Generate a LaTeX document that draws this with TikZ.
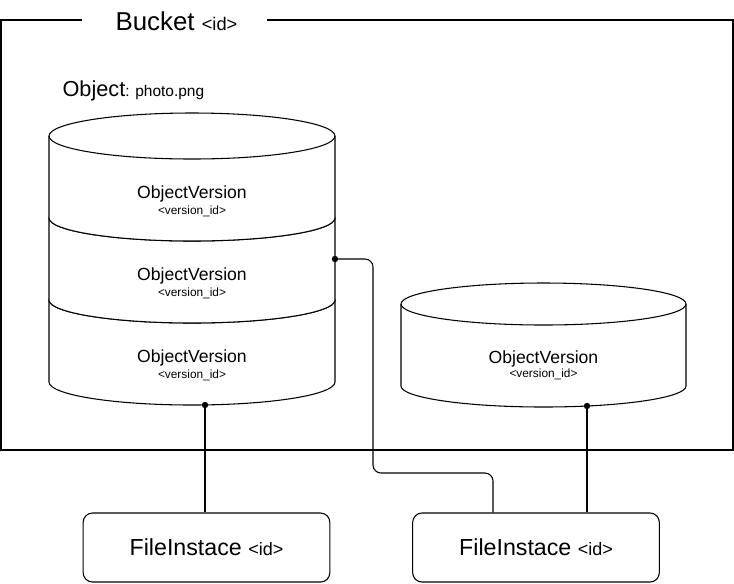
\documentclass[tikz,border=0pt]{standalone}
\usepackage{fontspec}
\setmainfont{Liberation Sans}
\usepackage{tikz}

\begin{document}
\begin{tikzpicture}[x=0.75pt,y=0.75pt,yscale=-1,xscale=1,
    line width=0.8pt,
    vername/.style={inner sep=0pt, font=\fontsize{13.2}{15}\selectfont},
    verid/.style={inner sep=0pt, font=\fontsize{8.9}{10}\selectfont},
    filebox/.style={draw, rounded corners=7pt, minimum width=185pt, minimum height=51.75pt, inner sep=0pt},
    wire/.style={line width=0.8pt}]
    \useasboundingbox (0,0) rectangle (734,583);

    %Bucket frame
    \draw (82,20) -- (1,20) -- (1,450) -- (733,450) -- (733,20) -- (267,20) ;
    % Text Node
    \node [anchor=base west, inner sep=0pt] (bucket) at (115,30) {\fontsize{19.4}{22}\selectfont Bucket \fontsize{13.7}{16}\selectfont <id>};
    % Text Node
    \node [anchor=base west, inner sep=0pt] (objname) at (62,96) {\fontsize{16.3}{18}\selectfont Object\fontsize{11.6}{14}\selectfont: photo.png};

    %Stacked versions, lowest first
    \foreach \yc/\nm in {300/C, 218/B, 136/A} {
      \draw [fill=white] (49,\yc) -- (49,\yc+82) arc[start angle=180, end angle=0, x radius=143, y radius=23] -- (335,\yc) arc[start angle=0, end angle=-180, x radius=143, y radius=23] -- cycle ;
      \draw (49,\yc) arc[start angle=180, end angle=0, x radius=143, y radius=23] ;
      \node [vername] (ov\nm) at (192,\yc+58) {ObjectVersion};
      \node [verid] (ovid\nm) at (192,\yc+75) {<version\_id>};
    }

    %Single version
    \draw [fill=white] (401,304) -- (401,386) arc[start angle=180, end angle=0, x radius=142.5, y radius=21] -- (686,304) arc[start angle=0, end angle=-180, x radius=142.5, y radius=21] -- cycle ;
    \draw (401,304) arc[start angle=180, end angle=0, x radius=142.5, y radius=21] ;
    \node [vername] (ovD) at (543.5,359) {ObjectVersion};
    \node [verid] (ovidD) at (543.5,374) {<version\_id>};

    %File instances
    \node [filebox] (fiA) at (206.5,547.5) {\fontsize{17.4}{20}\selectfont FileInstace \fontsize{13.5}{16}\selectfont <id>};
    \node [filebox] (fiB) at (536,547.5) {\fontsize{17.4}{20}\selectfont FileInstace \fontsize{13.5}{16}\selectfont <id>};

    %Connectors
    \coordinate (dotC) at (205,405);
    \coordinate (dotB) at (335,259);
    \coordinate (dotD) at (587,406);
    \coordinate (jogB) at (493,473);
    \draw [wire] (dotC) -- (dotC |- fiA.north) ;
    \draw [wire, rounded corners=6pt] (dotB) -| (373,473) -- (jogB) -- (jogB |- fiB.north) ;
    \draw [wire] (dotD) -- (dotD |- fiB.north) ;
    \foreach \d in {dotC, dotB, dotD} \fill (\d) circle[radius=3.2] ;

\end{tikzpicture}
\end{document}
